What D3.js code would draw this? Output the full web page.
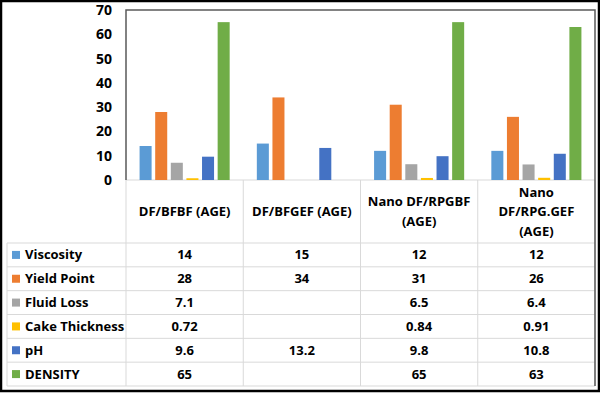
<!DOCTYPE html>
<html>
<head>
<meta charset="utf-8">
<script src="https://cdn.jsdelivr.net/npm/d3@7"></script>
<style>
  html, body { margin: 0; padding: 0; background: #fff; }
  svg { display: block; }
  text { font-family: "Open Sans", "DejaVu Sans", sans-serif; font-weight: bold; fill: #000; }
</style>
</head>
<body>
<svg id="chart"></svg>
<script>
// data
const categories = [
  ['DF/BFBF (AGE)'],
  ['DF/BFGEF (AGE)'],
  ['Nano DF/RPGBF', '(AGE)'],
  ['Nano', 'DF/RPG.GEF', '(AGE)']
];
const seriesNames  = ['Viscosity', 'Yield Point', 'Fluid Loss', 'Cake Thickness', 'pH', 'DENSITY'];
const seriesColors = ['#5B9BD5', '#ED7D31', '#A5A5A5', '#FFC000', '#4472C4', '#70AD47'];
const viscosity     = [14, 15, 12, 12];
const yieldPoint    = [28, 34, 31, 26];
const fluidLoss     = [7.1, null, 6.5, 6.4];
const cakeThickness = [0.72, null, 0.84, 0.91];
const pH            = [9.6, 13.2, 9.8, 10.8];
const density       = [65, null, 65, 63];
const seriesValues  = [viscosity, yieldPoint, fluidLoss, cakeThickness, pH, density];
const yTicks = [0, 10, 20, 30, 40, 50, 60, 70];

const width = 600, height = 393;
const plot  = { left: 126, right: 595, top: 10, bottom: 180 };
const table = { left: 7, headBottom: 243, bottom: 386 };

const svg = d3.select('#chart').attr('width', width).attr('height', height);

// scales
const x0 = d3.scaleBand().domain(d3.range(categories.length)).range([plot.left, plot.right]);
const x1 = d3.scaleBand().domain(seriesNames).range([0, x0.bandwidth()])
  .paddingInner(0.23).paddingOuter(0.87);
const y  = d3.scaleLinear().domain([0, 70]).range([plot.bottom, plot.top]);
const rowY = d3.scaleBand().domain(seriesNames).range([table.headBottom, table.bottom]);

// table grid
const grid = svg.append('g').attr('stroke', '#d9d9d9').attr('stroke-width', 1);
grid.append('line')
  .attr('x1', plot.left).attr('x2', plot.right)
  .attr('y1', plot.bottom).attr('y2', plot.bottom);
seriesNames.forEach(s => {
  const yy = rowY(s);
  grid.append('line')
    .attr('x1', table.left).attr('x2', plot.right)
    .attr('y1', yy).attr('y2', yy);
});
grid.append('line')
  .attr('x1', table.left).attr('x2', plot.right)
  .attr('y1', table.bottom).attr('y2', table.bottom);
grid.append('line')
  .attr('x1', table.left).attr('x2', table.left)
  .attr('y1', table.headBottom).attr('y2', table.bottom);
d3.range(categories.length + 1).forEach(i => {
  const xx = plot.left + i * x0.step();
  grid.append('line')
    .attr('x1', xx).attr('x2', xx)
    .attr('y1', plot.bottom).attr('y2', table.bottom);
});

// bars
const groups = svg.append('g').selectAll('g')
  .data(categories.map((c, i) => i))
  .join('g')
  .attr('transform', i => `translate(${x0(i)},0)`);

groups.selectAll('rect')
  .data(i => seriesNames.map((s, k) => ({ s, k, v: seriesValues[k][i] })).filter(d => d.v != null))
  .join('rect')
  .attr('x', d => x1(d.s))
  .attr('width', x1.bandwidth())
  .attr('y', d => y(d.v))
  .attr('height', d => y(0) - y(d.v))
  .attr('fill', d => seriesColors[d.k]);

// plot area frame
svg.append('path')
  .attr('d', `M${plot.left},${plot.bottom}V${plot.top}H${plot.right}V${table.bottom}`)
  .attr('fill', 'none').attr('stroke', '#595959').attr('stroke-width', 1.5);

// y axis
const yAxis = svg.append('g')
  .attr('transform', `translate(${plot.left},0)`)
  .call(d3.axisLeft(y).tickValues(yTicks).tickSize(0).tickPadding(14));
yAxis.select('.domain').remove();
yAxis.selectAll('text')
  .attr('font-family', '"Open Sans", sans-serif')
  .attr('font-size', 14).attr('font-weight', 'bold').attr('fill', '#000');

// header labels
const header = svg.append('g');
categories.forEach((lines, i) => {
  const cx = x0(i) + x0.bandwidth() / 2;
  const cy = (plot.bottom + table.headBottom) / 2;
  const lh = 19.5;
  lines.forEach((t, j) => {
    header.append('text')
      .attr('x', cx)
      .attr('y', cy + (j - (lines.length - 1) / 2) * lh)
      .attr('dy', '0.35em')
      .attr('text-anchor', 'middle')
      .attr('font-size', 13)
      .text(t);
  });
});

// legend column and values
const rows = svg.append('g');
seriesNames.forEach((s, k) => {
  const cy = rowY(s) + rowY.bandwidth() / 2;
  rows.append('rect')
    .attr('x', 12).attr('y', cy - 4)
    .attr('width', 8).attr('height', 8)
    .attr('fill', seriesColors[k]);
  rows.append('text')
    .attr('x', 25).attr('y', cy).attr('dy', '0.35em')
    .attr('font-size', 13)
    .text(s);
  seriesValues[k].forEach((v, i) => {
    if (v == null) return;
    rows.append('text')
      .attr('x', x0(i) + x0.bandwidth() / 2)
      .attr('y', cy).attr('dy', '0.35em')
      .attr('text-anchor', 'middle')
      .attr('font-size', 13)
      .text(v);
  });
});

// outer border
svg.append('rect')
  .attr('x', 1).attr('y', 1)
  .attr('width', width - 2).attr('height', height - 3)
  .attr('fill', 'none').attr('stroke', '#000').attr('stroke-width', 2.5);
</script>
</body>
</html>
